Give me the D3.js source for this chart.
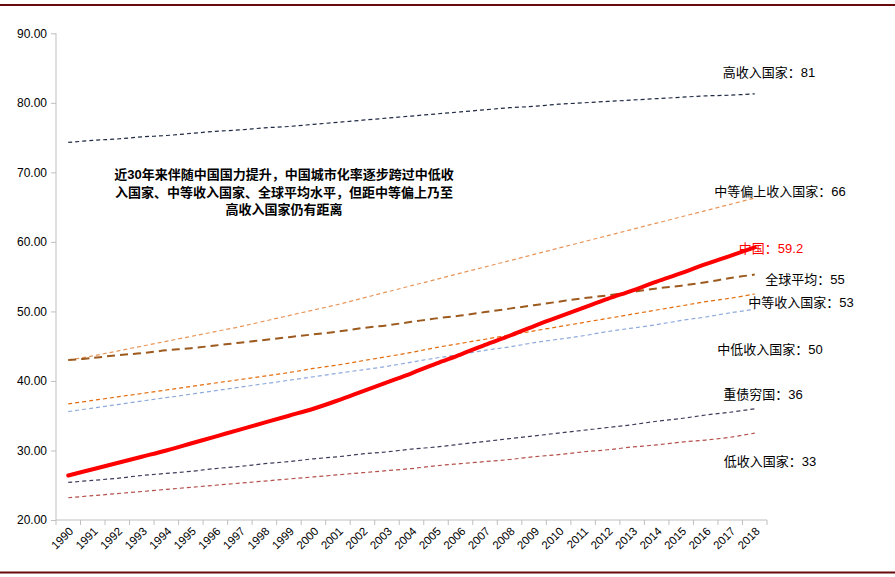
<!DOCTYPE html>
<html lang="zh">
<head>
<meta charset="UTF-8">
<title>城市化率</title>
<script src="https://d3js.org/d3.v7.min.js"></script>
<style>
  body { margin: 0; background: #fff; }
  svg text { font-family: "Liberation Sans", Arial, "Noto Sans CJK SC", sans-serif; }
  .axis path, .axis line { stroke: #bfbfbf; }
  .axis text { fill: #000; }
</style>
</head>
<body>
<svg id="chart" width="895" height="577"></svg>
<script>
// years on the category axis
const years = d3.range(1990, 2019).map(String);
const yTicks = [20, 30, 40, 50, 60, 70, 80, 90];

// urbanisation rate (%) per series
const highIncome = [74.3, 74.6, 74.8, 75.1, 75.3, 75.6, 75.9, 76.1, 76.4, 76.6, 76.9, 77.2, 77.5, 77.8, 78.1, 78.4, 78.7, 79.0, 79.3, 79.5, 79.8, 80.0, 80.2, 80.4, 80.6, 80.8, 81.0, 81.1, 81.3];
const upperMiddle = [43.0, 43.6, 44.3, 45.0, 45.7, 46.4, 47.1, 47.8, 48.6, 49.4, 50.2, 51.0, 51.9, 52.8, 53.7, 54.6, 55.5, 56.4, 57.3, 58.2, 59.1, 60.0, 60.9, 61.8, 62.7, 63.6, 64.5, 65.4, 66.3];
const world = [43.0, 43.3, 43.7, 44.0, 44.4, 44.7, 45.1, 45.5, 45.9, 46.3, 46.7, 47.1, 47.6, 48.0, 48.5, 49.0, 49.4, 49.9, 50.4, 50.9, 51.4, 51.9, 52.3, 52.8, 53.3, 53.7, 54.2, 54.8, 55.3];
const middleIncome = [36.7, 37.2, 37.7, 38.2, 38.7, 39.2, 39.7, 40.2, 40.7, 41.2, 41.8, 42.3, 42.9, 43.5, 44.1, 44.8, 45.4, 46.0, 46.6, 47.2, 47.8, 48.4, 49.0, 49.6, 50.2, 50.8, 51.4, 51.9, 52.5];
const lowerMiddle = [35.6, 36.1, 36.6, 37.1, 37.6, 38.1, 38.6, 39.1, 39.6, 40.1, 40.6, 41.1, 41.6, 42.1, 42.7, 43.3, 43.8, 44.4, 44.9, 45.5, 46.0, 46.5, 47.1, 47.6, 48.1, 48.7, 49.2, 49.8, 50.3];
const china = [26.4, 27.3, 28.2, 29.1, 30.0, 31.0, 32.0, 33.0, 34.0, 35.0, 36.0, 37.2, 38.5, 39.8, 41.1, 42.5, 43.8, 45.2, 46.5, 47.9, 49.2, 50.5, 51.8, 53.0, 54.3, 55.5, 56.8, 58.0, 59.2];
const hipc = [25.4, 25.7, 26.0, 26.4, 26.7, 27.0, 27.4, 27.7, 28.1, 28.4, 28.8, 29.1, 29.5, 29.8, 30.2, 30.5, 30.9, 31.3, 31.7, 32.1, 32.5, 32.9, 33.3, 33.7, 34.2, 34.6, 35.1, 35.5, 36.0];
const lowIncome = [23.2, 23.5, 23.8, 24.1, 24.4, 24.7, 25.0, 25.3, 25.6, 25.9, 26.2, 26.5, 26.8, 27.1, 27.4, 27.8, 28.1, 28.4, 28.7, 29.1, 29.4, 29.8, 30.1, 30.5, 30.8, 31.2, 31.5, 31.9, 32.5];

const seriesNames = ["高收入国家：81", "中等偏上收入国家：66", "中国：59.2", "全球平均：55", "中等收入国家：53", "中低收入国家：50", "重债穷国：36", "低收入国家：33"];
const note = ["近30年来伴随中国国力提升，中国城市化率逐步跨过中低收", "入国家、中等收入国家、全球平均水平，但距中等偏上乃至", "高收入国家仍有距离"];

const svg = d3.select("#chart");
const plotLeft = 56, plotRight = 767, plotTop = 33.3, plotBottom = 520;

const x = d3.scaleBand().domain(years).range([plotLeft, plotRight]);
const y = d3.scaleLinear().domain([20, 90]).range([plotBottom, plotTop]);

// frame lines top and bottom
svg.append("rect").attr("x", 0).attr("y", 4).attr("width", 895).attr("height", 2).attr("fill", "#6b0a0a");
svg.append("rect").attr("x", 0).attr("y", 571.5).attr("width", 895).attr("height", 2).attr("fill", "#6b0a0a");

// y axis
const yAxis = svg.append("g").attr("class", "axis")
  .attr("transform", `translate(${plotLeft},0)`)
  .call(d3.axisLeft(y).tickValues(yTicks).tickFormat(d3.format(".2f")).tickSize(5).tickPadding(4));
yAxis.select(".domain").attr("d", `M0,${plotBottom}V${plotTop}`);
yAxis.selectAll("text").style("font-size", "12px");

// x axis, ticks between categories like Excel
const xAxis = svg.append("g").attr("class", "axis")
  .attr("transform", `translate(0,${plotBottom})`);
xAxis.append("line").attr("x1", plotLeft).attr("x2", plotRight).attr("stroke", "#bfbfbf");
xAxis.selectAll(".tk").data(years.concat(["end"])).enter().append("line")
  .attr("x1", d => d === "end" ? plotRight : x(d))
  .attr("x2", d => d === "end" ? plotRight : x(d))
  .attr("y1", 0).attr("y2", 5).attr("stroke", "#bfbfbf");
xAxis.selectAll(".lbl").data(years).enter().append("text")
  .attr("transform", d => `translate(${x(d) + x.bandwidth() / 2 + 3},${9}) rotate(-45)`)
  .attr("text-anchor", "end")
  .attr("dy", "0.35em")
  .style("font-size", "11.5px")
  .text(d => d);

const line = d3.line()
  .x((d, i) => x(years[i]) + x.bandwidth() / 2)
  .y(d => y(d))
  .curve(d3.curveCatmullRom);

const series = [
  { values: highIncome, color: "#1f2a44", width: 1.2, dash: "4,3" },
  { values: upperMiddle, color: "#e8955a", width: 1.2, dash: "4,3" },
  { values: middleIncome, color: "#e46c0a", width: 1.2, dash: "4,3" },
  { values: lowerMiddle, color: "#8eaadb", width: 1.2, dash: "4,3" },
  { values: hipc, color: "#3d3d5c", width: 1.2, dash: "4,3" },
  { values: lowIncome, color: "#b5514c", width: 1.2, dash: "4,3" },
  { values: world, color: "#9c5a1e", width: 2, dash: "8,5" },
  { values: china, color: "#ff0000", width: 4, dash: null }
];

svg.selectAll(".series").data(series).enter().append("path")
  .attr("fill", "none")
  .attr("stroke", d => d.color)
  .attr("stroke-width", d => d.width)
  .attr("stroke-dasharray", d => d.dash)
  .attr("stroke-linecap", d => d.dash ? "butt" : "round")
  .attr("d", d => line(d.values));

// end labels
const labelPos = [[769, 77], [780, 196], [771, 253], [805, 284], [801, 307], [770, 354], [763, 399], [770, 466]];
svg.selectAll(".end-label").data(seriesNames).enter().append("text")
  .attr("x", (d, i) => labelPos[i][0])
  .attr("y", (d, i) => labelPos[i][1])
  .attr("text-anchor", "middle")
  .style("font-size", "13px")
  .attr("fill", (d, i) => i === 2 ? "#ff0000" : "#000")
  .text(d => d);

// annotation
svg.selectAll(".note").data(note).enter().append("text")
  .attr("x", 284)
  .attr("y", (d, i) => 179 + i * 17.5)
  .attr("text-anchor", "middle")
  .style("font-size", "13px")
  .style("font-weight", "bold")
  .text(d => d);
</script>
</body>
</html>
